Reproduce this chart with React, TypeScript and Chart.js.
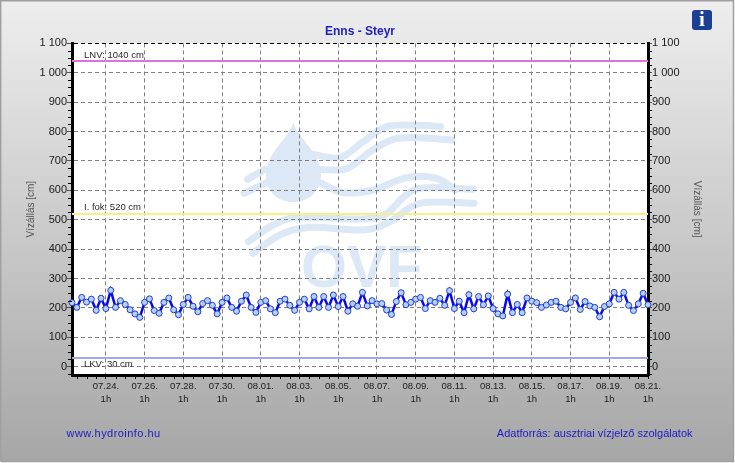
import React, { useEffect, useRef } from "react";
import { Chart, registerables } from "chart.js";

Chart.register(...registerables);

const FONT = "'Liberation Sans', Arial, sans-serif";

// water level every 6 hours, the last reading is 08.21. 1h
const levels = [
  218, 202, 236, 220, 230, 192, 233, 198, 260, 202, 225, 212, 194, 180, 168, 219, 231, 191, 182, 219,
  234, 194, 177, 212, 236, 206, 187, 215, 225, 209, 180, 219, 234, 202, 189, 223, 244, 202, 185, 219,
  225, 197, 184, 223, 230, 209, 192, 219, 230, 197, 239, 202, 239, 202, 244, 205, 239, 189, 214, 206,
  253, 207, 225, 214, 215, 193, 178, 222, 252, 211, 219, 230, 236, 198, 225, 219, 233, 209, 259, 198,
  223, 184, 245, 197, 239, 211, 241, 198, 180, 173, 247, 184, 212, 184, 234, 223, 218, 202, 210, 219,
  223, 202, 197, 219, 234, 195, 222, 207, 202, 170, 205, 214, 253, 230, 253, 209, 191, 214, 250, 211,
];

const dateLabels = [
  "07.24.", "07.26.", "07.28.", "07.30.", "08.01.", "08.03.", "08.05.", "08.07.",
  "08.09.", "08.11.", "08.13.", "08.15.", "08.17.", "08.19.", "08.21.",
];
const hourLabel = "1h";
const dateTickIndexes = [7, 15, 23, 31, 39, 47, 55, 63, 71, 79, 87, 95, 103, 111, 119];
const yTicks = [0, 100, 200, 300, 400, 500, 600, 700, 800, 900, 1000, 1100];

const refNames = ["LNV: 1040 cm", "I. fok: 520 cm", "LKV: 30 cm"];
const refValues = [1040, 520, 30];
const refColors = ["#e070dc", "#f6f08c", "#a4a4f0"];

const WM = "#dce8f5";

function wave(ctx: CanvasRenderingContext2D, pts: number[][]) {
  // catmull-rom through the logo's outline points (zoomed coordinates)
  const p = pts.map(([x, y]) => [230 + x / 3, 110 + y / 3]);
  ctx.beginPath();
  ctx.moveTo(p[0][0], p[0][1]);
  for (let i = 0; i < p.length - 1; i++) {
    const a = p[Math.max(0, i - 1)], b = p[i], c = p[i + 1], d = p[Math.min(p.length - 1, i + 2)];
    ctx.bezierCurveTo(
      b[0] + (c[0] - a[0]) / 6, b[1] + (c[1] - a[1]) / 6,
      c[0] - (d[0] - b[0]) / 6, c[1] - (d[1] - b[1]) / 6,
      c[0], c[1],
    );
  }
  ctx.stroke();
}

const backdrop = {
  id: "backdrop",
  beforeDraw(chart: any) {
    const { ctx, width, height, chartArea: a } = chart;
    ctx.save();
    const g = ctx.createLinearGradient(0, 0, 0, height);
    g.addColorStop(0, "#eeeeee");
    g.addColorStop(1, "#a6a6a6");
    ctx.fillStyle = g;
    ctx.fillRect(0, 0, width, height);
    ctx.strokeStyle = "#ffffff";
    ctx.lineWidth = 1;
    ctx.strokeRect(0.5, 0.5, width - 1, height - 1);
    ctx.strokeStyle = "#a0a0a0";
    ctx.lineWidth = 1.5;
    ctx.beginPath();
    ctx.moveTo(0.7, height - 1.5);
    ctx.lineTo(0.7, 0.7);
    ctx.lineTo(width - 1.5, 0.7);
    ctx.lineTo(width - 1.5, height - 1.5);
    ctx.lineTo(0.7, height - 1.5);
    ctx.stroke();
    ctx.fillStyle = "#ffffff";
    ctx.fillRect(a.left, a.top, a.right - a.left, a.bottom - a.top);

    // watermark logo
    ctx.fillStyle = WM;
    ctx.strokeStyle = WM;
    ctx.lineCap = "round";
    ctx.lineJoin = "round";
    ctx.beginPath();
    ctx.moveTo(293.3, 122);
    ctx.bezierCurveTo(297, 138, 321, 152, 321, 175);
    ctx.bezierCurveTo(321, 192, 308, 202, 293, 202);
    ctx.bezierCurveTo(278, 202, 266, 192, 266, 175);
    ctx.bezierCurveTo(266, 152, 290, 138, 293.3, 122);
    ctx.fill();
    ctx.lineWidth = 7;
    wave(ctx, [[250, 133], [330, 143], [400, 95], [470, 50], [560, 46], [632, 50]]);
    wave(ctx, [[265, 178], [350, 176], [420, 125], [490, 88], [570, 83], [665, 90]]);
    wave(ctx, [[270, 218], [340, 248], [430, 240], [530, 203], [620, 205], [675, 240]]);
    wave(ctx, [[52, 208], [105, 178]]);
    wave(ctx, [[42, 250], [110, 218]]);
    wave(ctx, [[55, 395], [130, 345], [210, 322], [400, 327], [470, 310], [560, 237], [730, 238]]);
    wave(ctx, [[68, 430], [150, 375], [240, 352], [400, 360], [480, 335], [570, 280], [732, 280]]);
    ctx.font = `bold 59px ${FONT}`;
    ctx.textAlign = "left";
    ctx.textBaseline = "alphabetic";
    ctx.fillText("OVF", 301, 287);
    ctx.restore();
  },
  afterDraw(chart: any) {
    const { ctx, scales } = chart;
    const { x, y } = scales;
    ctx.save();

    // minor ticks
    ctx.strokeStyle = "#000000";
    ctx.lineWidth = 1;
    ctx.beginPath();
    for (let v = -25; v <= 1100; v += 25) {
      if (v % 100 === 0) continue;
      const p = Math.round(y.getPixelForValue(v)) + 0.5;
      ctx.moveTo(x.left - 4, p);
      ctx.lineTo(x.left, p);
      ctx.moveTo(x.right, p);
      ctx.lineTo(x.right + 4, p);
    }
    for (let i = 1; i <= 119; i += 2) {
      if (dateTickIndexes.includes(i)) continue;
      const p = Math.round(x.getPixelForValue(i)) + 0.5;
      ctx.moveTo(p, y.bottom);
      ctx.lineTo(p, y.bottom + 4);
    }
    ctx.stroke();

    // reference line captions
    ctx.fillStyle = "#2a2a2a";
    ctx.font = `9.5px ${FONT}`;
    ctx.textBaseline = "middle";
    ctx.textAlign = "left";
    const off = [-6, -7, 6];
    refNames.forEach((name, i) => {
      ctx.fillText(name, 84, y.getPixelForValue(refValues[i]) + off[i]);
    });

    // footer
    ctx.fillStyle = "#2020c8";
    ctx.font = `11px ${FONT}`;
    (ctx as any).letterSpacing = "0.45px";
    ctx.fillText("www.hydroinfo.hu", 66.5, 433.5);
    (ctx as any).letterSpacing = "0px";
    ctx.textAlign = "right";
    ctx.fillText("Adatforrás: ausztriai vízjelző szolgálatok", 692.5, 433.5);

    // info icon
    ctx.fillStyle = "#1c3f94";
    ctx.beginPath();
    ctx.roundRect(692, 10, 20, 20, 3);
    ctx.fill();
    ctx.fillStyle = "#ffffff";
    ctx.textAlign = "center";
    ctx.font = `bold 21px 'Liberation Serif', serif`;
    ctx.fillText("i", 702, 20.5);
    ctx.restore();
  },
};

export default function App() {
  const ref = useRef<HTMLCanvasElement>(null);
  useEffect(() => {
    const yBase = {
      type: "linear",
      min: -28,
      max: 1100,
      afterBuildTicks: (s: any) => {
        s.ticks = yTicks.map((value) => ({ value }));
      },
      ticks: {
        autoSkip: false,
        color: "#1a1a1a",
        font: { family: FONT, size: 11 },
        padding: 0,
        callback: (v: number) => String(v).replace(/\B(?=(\d{3})+$)/g, " "),
      },
      border: { color: "#000000", width: 3 },
    };
    const titleBase = {
      display: true,
      text: "Vízállás [cm]",
      color: "#555555",
      font: { family: FONT, size: 10 },
    };
    const chart = new Chart(ref.current!, {
      type: "line",
      plugins: [backdrop],
      data: {
        datasets: [
          ...refNames.map((name, i) => ({
            label: name,
            data: [{ x: 0, y: refValues[i] }, { x: 119, y: refValues[i] }],
            borderColor: refColors[i],
            borderWidth: 2,
            pointRadius: 0,
            yAxisID: "y",
            xAxisID: "x",
          })),
          {
            label: "Vízállás",
            data: levels.map((y, x) => ({ x, y })),
            borderColor: "#0808f0",
            borderWidth: 2.5,
            pointRadius: 3,
            pointBackgroundColor: "#b0d2fa",
            pointBorderColor: "#2a3cc8",
            pointBorderWidth: 1,
            tension: 0,
            clip: false,
            yAxisID: "y",
            xAxisID: "x",
          },
        ],
      },
      options: {
        responsive: false,
        animation: false,
        devicePixelRatio: 1,
        events: [],
        layout: { padding: 0 },
        plugins: {
          legend: { display: false },
          tooltip: { enabled: false },
          title: {
            display: true,
            text: "Enns - Steyr",
            color: "#2020c0",
            fullSize: false,
            font: { family: FONT, size: 12, weight: "bold" },
            padding: { top: 24, bottom: 5 },
          },
        },
        scales: {
          x: {
            type: "linear",
            min: 0,
            max: 119,
            afterBuildTicks: (s: any) => {
              s.ticks = dateTickIndexes.map((value) => ({ value }));
            },
            afterFit: (s: any) => {
              s.height = 88;
            },
            ticks: {
              autoSkip: false,
              maxRotation: 0,
              minRotation: 0,
              color: "#1a1a1a",
              font: { family: FONT, size: 9.5, lineHeight: 1.35 },
              padding: 1,
              callback: (v: number) => [dateLabels[dateTickIndexes.indexOf(v)], hourLabel],
            },
            grid: { color: "#808080", tickColor: "#000000", tickLength: 4, tickBorderDash: [] },
            border: { color: "#000000", width: 3, dash: [4, 3] },
          },
          y: {
            ...yBase,
            position: "left",
            afterFit: (s: any) => {
              s.width = 72;
            },
            title: { ...titleBase, padding: { top: 25, bottom: 0 } },
            grid: {
              color: (c: any) => (c.tick && c.tick.value === 1100 ? "#000000" : "#808080"),
              tickColor: "#555555",
              tickLength: 5,
            },
            border: { color: "#000000", width: 3, dash: [4, 3] },
          },
          yr: {
            ...yBase,
            position: "right",
            afterFit: (s: any) => {
              s.width = 87;
            },
            title: { ...titleBase, padding: { top: 32, bottom: 0 } },
            grid: { drawOnChartArea: false, tickColor: "#555555", tickLength: 4 },
            border: { color: "#000000", width: 3 },
          },
        },
      },
    } as any);
    return () => chart.destroy();
  }, []);
  return (
    <canvas
      ref={ref}
      width={735}
      height={463}
      style={{ position: "absolute", left: 0, top: 0, width: 735, height: 463 }}
    />
  );
}
